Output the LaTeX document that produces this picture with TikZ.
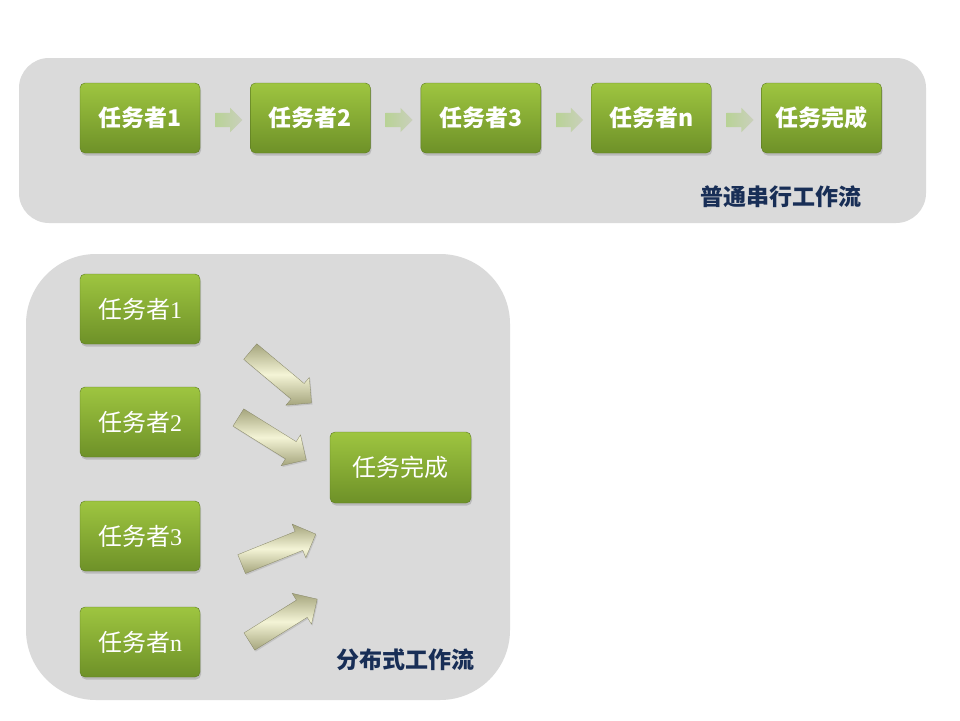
\documentclass[tikz,border=0pt]{standalone}
\usepackage{fontspec}
\newfontfamily\cjk{Noto Sans CJK SC}
\newfontfamily\numserif{Liberation Serif}
\usetikzlibrary{positioning,shapes.arrows,shadows}
\definecolor{panelGray}{RGB}{218,218,218}
\definecolor{boxTop}{RGB}{158,197,64}
\definecolor{boxBot}{RGB}{110,145,40}
\definecolor{labelBlue}{RGB}{24,46,86}
\definecolor{smallLeft}{RGB}{184,210,150}
\definecolor{smallRight}{RGB}{202,208,188}
\definecolor{bigEdge}{RGB}{165,165,125}
\definecolor{bigMid}{RGB}{244,244,214}

\begin{document}
\begin{tikzpicture}[x=1pt,y=-1pt,
    panel/.style={%
      fill=panelGray,
      draw=none,
    },
    task/.style={%
      draw=boxBot!85!black,
      line width=0.4pt,
      rounded corners=5pt,
      top color=boxTop,
      bottom color=boxBot,
      minimum width=120pt,
      minimum height=70pt,
      inner sep=0pt,
      text=white,
      font=\cjk\fontsize{24}{26}\selectfont,
      drop shadow={opacity=0.35,shadow xshift=1pt,shadow yshift=-2.5pt},
    },
    taskbold/.style={%
      task,
      font=\cjk\bfseries\fontsize{23}{26}\selectfont,
    },
    smallarrow/.style={%
      single arrow,
      draw=none,
      left color=smallLeft,
      right color=smallRight,
      minimum height=27pt,
      inner xsep=0pt,
      inner ysep=7pt,
      single arrow head extend=5pt,
      single arrow head indent=0pt,
    },
    bigarrow/.style={%
      single arrow,
      draw=bigEdge!80!black,
      line width=0.3pt,
      top color=bigEdge,
      bottom color=bigEdge,
      middle color=bigMid,
      minimum height=80pt,
      inner xsep=0pt,
      inner ysep=10pt,
      single arrow head extend=8pt,
      single arrow head indent=0pt,
      drop shadow={opacity=0.25,shadow xshift=1pt,shadow yshift=-1.5pt},
    },
    flowlabel/.style={%
      text=labelBlue,
      font=\cjk\bfseries\fontsize{23}{26}\selectfont,
    },
  ]

    \useasboundingbox [fill=white] (0,0) rectangle (960,720);

    % serial workflow
    \draw [panel, rounded corners=30pt] (19,58) rectangle (926,223);
    \node [taskbold] (s1) at (140,118) {任务者1};
    \node [taskbold, right=50pt of s1] (s2) {任务者2};
    \node [taskbold, right=50pt of s2] (s3) {任务者3};
    \node [taskbold, right=50pt of s3] (sn) {任务者n};
    \node [taskbold, right=50pt of sn] (sdone) {任务完成};
    \path (s1) -- (s2) node [midway, smallarrow, yshift=-2pt] (a1) {};
    \path (s2) -- (s3) node [midway, smallarrow, yshift=-2pt] (a2) {};
    \path (s3) -- (sn) node [midway, smallarrow, yshift=-2pt] (a3) {};
    \path (sn) -- (sdone) node [midway, smallarrow, yshift=-2pt] (a4) {};
    \node [flowlabel] (serialLabel) at (781,197) {普通串行工作流};

    % distributed workflow
    \draw [panel, rounded corners=70pt] (26,254) rectangle (510,700);
    \node [task] (p1) at (140,309) {任务者{\numserif 1}};
    \node [task] (p2) at (140,422) {任务者{\numserif 2}};
    \node [task] (p3) at (140,536) {任务者{\numserif 3}};
    \node [task] (pn) at (140,642) {任务者{\numserif n}};
    \node [task, minimum width=141pt, minimum height=71pt] (pdone) at (400.5,467.5) {任务完成};
    \node [bigarrow, rotate=-40] (b1) at (277,374) {};
    \node [bigarrow, rotate=-32] (b2) at (268,436) {};
    \node [bigarrow, rotate=22] (b3) at (274,551) {};
    \node [bigarrow, rotate=32] (b4) at (279,623) {};
    \node [flowlabel] (distLabel) at (405,660) {分布式工作流};
\end{tikzpicture}
\end{document}
